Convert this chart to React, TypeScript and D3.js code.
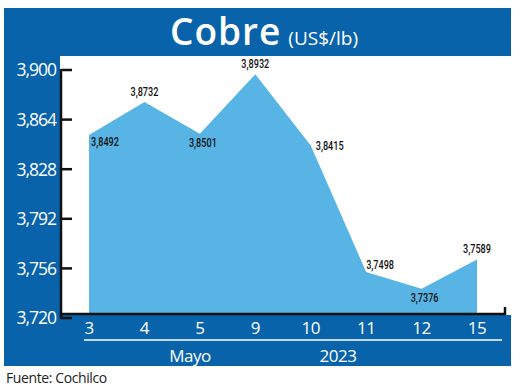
import React from 'react';
import * as d3 from 'd3';

const days = ['3', '4', '5', '9', '10', '11', '12', '15'];
const prices = [3.8492, 3.8732, 3.8501, 3.8932, 3.8415, 3.7498, 3.7376, 3.7589];
const priceLabels = ['3,8492', '3,8732', '3,8501', '3,8932', '3,8415', '3,7498', '3,7376', '3,7589'];
const yTicks = [3.72, 3.756, 3.792, 3.828, 3.864, 3.9];
// where each value label sits relative to its point
const labelPos = ['br', 't', 'b', 't', 'r', 'tr', 'b', 't'];

const BLUE = '#0863aa';
const AREA = '#58b4e4';
const W = 520;
const H = 389;

const App = () => {
  const x = d3.scalePoint<string>().domain(days).range([89, 477]);
  const y = d3.scaleLinear().domain([3.72, 3.9]).range([313, 65]);
  const axisShift = 5; // printed axis sits a few px lower than the area

  const area = d3.area<number>()
    .x((_, i) => x(days[i]) as number)
    .y0(y(3.72))
    .y1(d => y(d));

  const fmt = (v: number) => v.toFixed(3).replace('.', ',');

  return (
    <svg width={W} height={H} style={{ position: 'absolute', left: 0, top: 0, background: '#fff' }}>
      {/* frame */}
      <rect x={4} y={8} width={507} height={358} fill={BLUE} />
      <rect x={60} y={56} width={451} height={259} fill="#fff" />

      {/* title */}
      <text x={264} y={45} textAnchor="middle" fill="#fff" fontFamily="'Open Sans', sans-serif">
        <tspan fontSize={37} fontWeight={600} letterSpacing={1}>Cobre</tspan>
        <tspan fontSize={19} dx={7}>(US$/lb)</tspan>
      </text>

      {/* area */}
      <path d={area(prices) || ''} fill={AREA} />

      {/* axes */}
      <g stroke="#111" strokeWidth={2.5} fill="none">
        <line x1={61} x2={61} y1={y(3.9) + axisShift - 1} y2={y(3.72) + axisShift + 1} />
        <line x1={61} x2={505} y1={y(3.72) + 1} y2={y(3.72) + 1} />
        <line x1={505} x2={505} y1={y(3.72) - 6} y2={y(3.72) + 2} />
      </g>
      {yTicks.map(t => (
        <g key={t} transform={`translate(0,${y(t) + axisShift})`}>
          <line x1={61} x2={72} stroke="#111" strokeWidth={2.5} />
          <text x={56} dy="0.36em" textAnchor="end" fill="#fff" fontSize={17.5}
            fontFamily="'Open Sans', sans-serif" letterSpacing={-1}>{fmt(t)}</text>
        </g>
      ))}

      {/* value labels */}
      {prices.map((p, i) => {
        const px = x(days[i]) as number;
        const py = y(p);
        const pos = labelPos[i];
        let lx = px, ly = py, anchor = 'middle';
        if (pos === 't') { ly = py - 6; }
        if (pos === 'b') { ly = py + 13; lx = px + 3; }
        if (pos === 'br') { lx = px + 2; ly = py + 11; anchor = 'start'; }
        if (pos === 'r') { lx = px + 5; ly = py + 4; anchor = 'start'; }
        if (pos === 'tr') { lx = px; ly = py - 3; anchor = 'start'; }
        return (
          <text key={i} transform={`translate(${lx},${ly}) scale(0.7,1)`} textAnchor={anchor}
            fontSize={13} fontWeight={500} fill="#111"
            fontFamily="'Roboto', 'Open Sans', sans-serif">{priceLabels[i]}</text>
        );
      })}

      {/* x labels */}
      {days.map(d => (
        <text key={d} x={x(d) as number} y={334} textAnchor="middle" fill="#fff" fontSize={17}
          fontFamily="'Open Sans', sans-serif" letterSpacing={-0.5}>{d}</text>
      ))}
      <line x1={84} x2={502} y1={340} y2={340} stroke="#fff" strokeWidth={1.5} />
      <text x={190} y={362} textAnchor="middle" fill="#fff" fontSize={17}
        fontFamily="'Open Sans', sans-serif" letterSpacing={-0.5}>Mayo</text>
      <text x={338} y={362} textAnchor="middle" fill="#fff" fontSize={17}
        fontFamily="'Open Sans', sans-serif" letterSpacing={-0.5}>2023</text>

      <text x={6} y={383} fill="#222" fontSize={14} fontFamily="'Open Sans', sans-serif"
        letterSpacing={-0.4}>Fuente: Cochilco</text>
    </svg>
  );
};

export default App;
